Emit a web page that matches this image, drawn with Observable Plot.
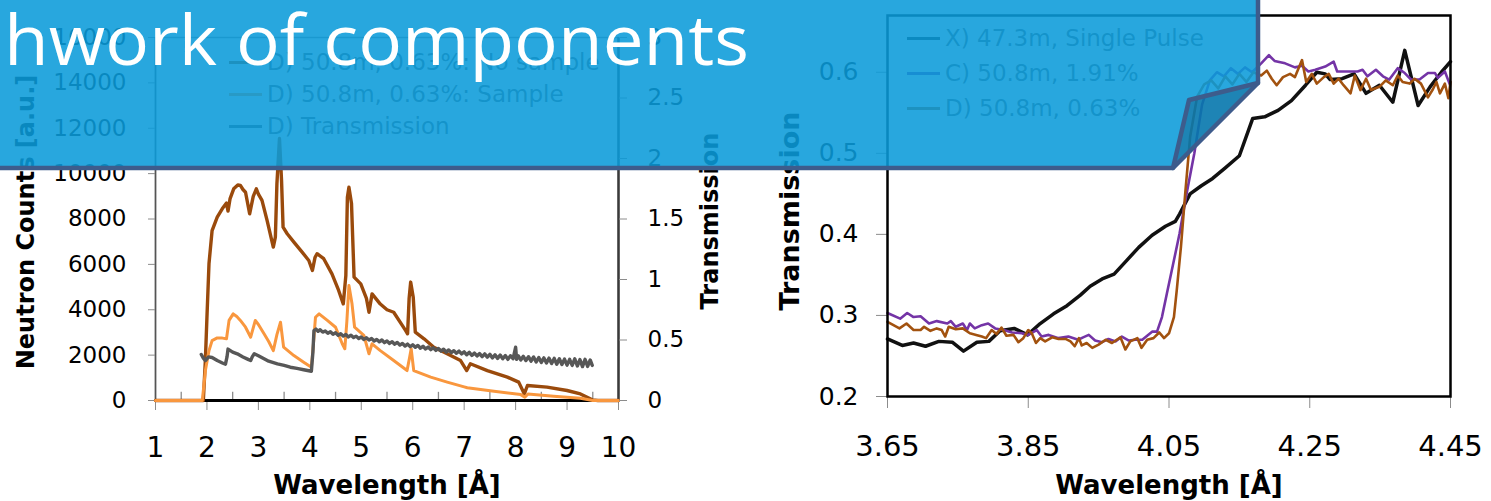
<!DOCTYPE html>
<html><head><meta charset="utf-8">
<script src="https://cdn.jsdelivr.net/npm/d3@7"></script>
<script src="https://cdn.jsdelivr.net/npm/@observablehq/plot@0.6"></script>
<style>
html,body{margin:0;padding:0;background:#fff;}
#stage{position:relative;width:1491px;height:501px;overflow:hidden;font-family:"DejaVu Sans",sans-serif;}
.layer{position:absolute;top:0;}
.legend{position:absolute;font-size:23px;color:#595959;white-space:nowrap;font-family:"DejaVu Sans",sans-serif;}
.legend .item{position:absolute;left:0;display:flex;align-items:center;height:30px;}
.legend .swatch{display:inline-block;width:33px;height:3px;margin-right:5px;}
#banner{position:absolute;left:0;top:0;pointer-events:none;}
</style></head><body><div id="stage"></div>
<script>
// ---------- LEFT CHART DATA (wavelength [Å], neutron counts) ----------
const noSample = [[1,0],[1.9,0],[1.93,0],[1.97,1800],[2.0,3670],[2.04,6040],[2.1,7490],[2.2,8080],[2.3,8460],[2.38,8700],[2.41,8350],[2.45,8900],[2.52,9330],[2.6,9500],[2.65,9480],[2.7,9300],[2.75,9180],[2.83,8230],[2.9,9000],[2.96,9330],[3.0,9100],[3.07,8820],[3.17,7930],[3.29,6760],[3.33,7200],[3.36,9550],[3.41,11550],[3.45,9700],[3.48,7640],[3.56,7350],[3.69,6980],[3.85,6540],[3.98,6170],[4.05,5730],[4.1,6300],[4.14,6470],[4.27,6250],[4.43,5580],[4.56,4850],[4.65,4260],[4.7,5500],[4.73,8960],[4.76,9400],[4.81,8680],[4.86,5440],[4.99,5140],[5.1,4500],[5.15,3890],[5.21,4700],[5.37,4250],[5.5,4000],[5.63,3890],[5.8,3300],[5.86,3090],[5.9,2940],[5.93,4500],[5.96,5220],[6.01,4550],[6.05,3010],[6.22,2720],[6.41,2350],[6.67,2060],[6.93,1760],[7.05,1320],[7.12,1620],[7.45,1320],[7.84,1030],[8.06,810],[8.17,290],[8.23,660],[8.61,590],[9.0,440],[9.26,290],[9.49,30],[9.6,0],[10,0]];
const withSample = [[1,0],[1.91,0],[1.97,1320],[2.04,2200],[2.1,2640],[2.2,2760],[2.3,2750],[2.38,2720],[2.43,3530],[2.51,3820],[2.58,3700],[2.65,3530],[2.75,3230],[2.85,2790],[2.94,3530],[3.0,3350],[3.11,2940],[3.2,2600],[3.29,2200],[3.36,2900],[3.43,3450],[3.49,2350],[3.69,1980],[3.88,1690],[4.03,1470],[4.07,2500],[4.11,3670],[4.18,3820],[4.34,3530],[4.5,3230],[4.63,2500],[4.68,2280],[4.72,3500],[4.76,5070],[4.82,4260],[4.87,3230],[5.05,2870],[5.15,2060],[5.21,2500],[5.37,2200],[5.63,1760],[5.89,1320],[5.94,1900],[5.97,2280],[6.02,1320],[6.35,1030],[6.67,810],[7.0,600],[7.06,560],[7.58,410],[8.1,260],[8.18,150],[8.24,290],[8.74,190],[9.26,100],[9.5,0],[10,0]];
// transmission (secondary axis)
const transmissionD = [[1.89,0.38],[1.93,0.35],[1.97,0.33],[2.03,0.36],[2.1,0.355],[2.2,0.33],[2.3,0.31],[2.36,0.30],[2.39,0.36],[2.41,0.425],[2.5,0.40],[2.59,0.386],[2.7,0.36],[2.8,0.34],[2.85,0.33],[2.88,0.36],[2.92,0.386],[3.0,0.37],[3.11,0.345],[3.2,0.325],[3.37,0.303],[3.5,0.29],[3.62,0.275],[3.75,0.265],[3.88,0.254],[4.03,0.242],[4.06,0.4],[4.08,0.578],[4.12,0.59],[4.16,0.572],[4.2,0.585],[4.25,0.565],[4.3,0.575],[4.35,0.556],[4.4,0.568],[4.45,0.548],[4.5,0.56],[4.55,0.54],[4.6,0.552],[4.65,0.532],[4.7,0.545],[4.75,0.525],[4.8,0.54],[4.85,0.52],[4.9,0.532],[4.95,0.512],[5.0,0.525],[5.05,0.505],[5.1,0.518],[5.15,0.5],[5.2,0.512],[5.25,0.492],[5.3,0.505],[5.35,0.485],[5.4,0.5],[5.45,0.478],[5.5,0.492],[5.55,0.472],[5.6,0.486],[5.65,0.465],[5.7,0.48],[5.75,0.458],[5.8,0.472],[5.85,0.45],[5.9,0.466],[5.95,0.445],[6.0,0.46],[6.05,0.44],[6.1,0.455],[6.15,0.432],[6.2,0.448],[6.25,0.426],[6.3,0.442],[6.35,0.42],[6.4,0.436],[6.45,0.414],[6.5,0.43],[6.55,0.408],[6.6,0.424],[6.65,0.4],[6.7,0.418],[6.75,0.396],[6.8,0.412],[6.85,0.39],[6.9,0.408],[6.95,0.385],[7.0,0.402],[7.05,0.378],[7.1,0.398],[7.15,0.372],[7.2,0.392],[7.25,0.368],[7.3,0.388],[7.35,0.362],[7.4,0.385],[7.45,0.358],[7.5,0.382],[7.55,0.352],[7.6,0.378],[7.65,0.348],[7.7,0.376],[7.75,0.345],[7.8,0.372],[7.85,0.34],[7.9,0.37],[7.95,0.345],[8.0,0.44],[8.02,0.34],[8.05,0.37],[8.1,0.335],[8.15,0.365],[8.2,0.33],[8.25,0.362],[8.3,0.325],[8.35,0.36],[8.4,0.318],[8.45,0.355],[8.5,0.315],[8.55,0.352],[8.6,0.31],[8.65,0.35],[8.7,0.305],[8.75,0.348],[8.8,0.3],[8.85,0.345],[8.9,0.298],[8.95,0.342],[9.0,0.292],[9.05,0.34],[9.1,0.29],[9.15,0.345],[9.2,0.285],[9.25,0.338],[9.3,0.28],[9.35,0.34],[9.4,0.282],[9.45,0.335],[9.49,0.29]];
const leftXTicks = [1,2,3,4,5,6,7,8,9,10];
const leftXMinor = [1.5,2.5,3.5,4.5,5.5,6.5,7.5,8.5,9.5];
const countTicks = [0,2000,4000,6000,8000,10000,12000,14000,16000];
const transTicks = [0,0.5,1,1.5,2,2.5,3];
const leftLegend = ["D) 50.8m, 0.63%: No sample","D) 50.8m, 0.63%: Sample","D) Transmission"];

// ---------- RIGHT CHART DATA (wavelength [Å], transmission) ----------
const singlePulseX = [[3.65,0.271],[3.671,0.263],[3.687,0.266],[3.704,0.262],[3.723,0.268],[3.742,0.267],[3.758,0.256],[3.777,0.267],[3.794,0.268],[3.81,0.281],[3.83,0.284],[3.849,0.276],[3.867,0.29],[3.886,0.302],[3.905,0.312],[3.924,0.325],[3.938,0.336],[3.955,0.345],[3.972,0.351],[3.99,0.368],[4.007,0.384],[4.026,0.399],[4.045,0.41],[4.059,0.416],[4.065,0.425],[4.08,0.45],[4.096,0.46],[4.112,0.469],[4.13,0.482],[4.15,0.497],[4.169,0.543],[4.186,0.545],[4.205,0.553],[4.224,0.565],[4.244,0.584],[4.26,0.6],[4.272,0.598],[4.279,0.591],[4.296,0.592],[4.313,0.598],[4.33,0.574],[4.349,0.584],[4.368,0.563],[4.385,0.627],[4.404,0.559],[4.421,0.582],[4.437,0.6],[4.45,0.613]];
const seriesC = [[3.65,0.303],[3.668,0.296],[3.678,0.303],[3.687,0.298],[3.697,0.299],[3.709,0.29],[3.72,0.293],[3.735,0.29],[3.74,0.293],[3.747,0.286],[3.757,0.29],[3.763,0.282],[3.767,0.29],[3.774,0.284],[3.784,0.288],[3.793,0.29],[3.803,0.284],[3.815,0.282],[3.827,0.279],[3.841,0.278],[3.85,0.276],[3.862,0.282],[3.869,0.274],[3.879,0.276],[3.893,0.272],[3.907,0.274],[3.921,0.27],[3.928,0.273],[3.936,0.276],[3.945,0.269],[3.955,0.267],[3.964,0.271],[3.974,0.268],[3.983,0.274],[3.993,0.269],[4.002,0.27],[4.012,0.27],[4.019,0.275],[4.026,0.28],[4.033,0.28],[4.04,0.298],[4.047,0.327],[4.057,0.368],[4.065,0.401],[4.075,0.45],[4.086,0.5],[4.097,0.56],[4.108,0.59],[4.118,0.6],[4.128,0.595],[4.138,0.605],[4.148,0.598],[4.158,0.606],[4.168,0.6],[4.181,0.611],[4.192,0.621],[4.2,0.614],[4.215,0.611],[4.229,0.606],[4.239,0.608],[4.248,0.601],[4.258,0.603],[4.272,0.607],[4.284,0.613],[4.289,0.601],[4.303,0.601],[4.318,0.601],[4.325,0.603],[4.332,0.595],[4.344,0.603],[4.354,0.595],[4.363,0.591],[4.375,0.605],[4.385,0.599],[4.394,0.591],[4.406,0.591],[4.418,0.599],[4.428,0.599],[4.432,0.593],[4.442,0.601],[4.449,0.585]];
const seriesD = [[3.65,0.292],[3.667,0.284],[3.677,0.29],[3.687,0.282],[3.697,0.282],[3.702,0.286],[3.711,0.281],[3.72,0.284],[3.727,0.282],[3.732,0.274],[3.737,0.286],[3.747,0.283],[3.757,0.284],[3.767,0.278],[3.776,0.276],[3.784,0.274],[3.79,0.272],[3.798,0.282],[3.805,0.277],[3.812,0.285],[3.819,0.275],[3.829,0.276],[3.836,0.267],[3.843,0.272],[3.85,0.282],[3.855,0.278],[3.861,0.266],[3.867,0.272],[3.874,0.268],[3.884,0.273],[3.893,0.271],[3.903,0.271],[3.91,0.268],[3.916,0.262],[3.922,0.272],[3.926,0.263],[3.933,0.266],[3.941,0.26],[3.95,0.264],[3.96,0.27],[3.969,0.266],[3.981,0.273],[3.988,0.258],[3.995,0.268],[4.005,0.272],[4.011,0.26],[4.019,0.27],[4.028,0.272],[4.036,0.279],[4.043,0.272],[4.05,0.278],[4.057,0.298],[4.061,0.331],[4.067,0.385],[4.073,0.45],[4.08,0.52],[4.09,0.57],[4.1,0.585],[4.11,0.59],[4.12,0.58],[4.13,0.595],[4.14,0.585],[4.15,0.598],[4.16,0.588],[4.17,0.6],[4.181,0.596],[4.189,0.602],[4.196,0.592],[4.203,0.584],[4.212,0.594],[4.222,0.598],[4.229,0.594],[4.239,0.615],[4.245,0.588],[4.253,0.598],[4.26,0.586],[4.27,0.594],[4.277,0.598],[4.284,0.586],[4.291,0.592],[4.298,0.584],[4.308,0.574],[4.314,0.596],[4.322,0.578],[4.33,0.592],[4.337,0.578],[4.349,0.582],[4.358,0.59],[4.368,0.584],[4.375,0.596],[4.382,0.588],[4.392,0.586],[4.399,0.592],[4.408,0.586],[4.418,0.569],[4.425,0.579],[4.43,0.588],[4.435,0.574],[4.442,0.586],[4.447,0.568],[4.45,0.588]];
const rightXTicks = [3.65,3.85,4.05,4.25,4.45];
const rightYTicks = [0.2,0.3,0.4,0.5,0.6];
const rightLegend = ["X) 47.3m, Single Pulse","C) 50.8m, 1.91%","D) 50.8m, 0.63%"];

// ---------- COLORS ----------
const cBrown = "#9a4a0c", cOrange = "#f9973e", cGray = "#575757";
const cBlack = "#111111", cPurple = "#7434a6", cBrown2 = "#a2520f";
const tickGray = "#8c8c8c";

const stage = document.getElementById("stage");
const fmt = d => String(d);
const X = d => d[0], Y = d => d[1];
const baseStyle = {fontFamily: "DejaVu Sans", background: "transparent", color: "#000", overflow: "visible"};
const titleOpts = {text: d => d, textAnchor: "middle", lineAnchor: "middle", fontWeight: "bold", fill: "#000"};

function place(el, left) {
  const wrap = document.createElement("div");
  wrap.className = "layer";
  wrap.style.left = left + "px";
  wrap.appendChild(el);
  stage.appendChild(wrap);
}

// Left chart: primary axis (counts)
const leftMain = Plot.plot({
  width: 760, height: 501,
  marginLeft: 155, marginRight: 142, marginTop: 37, marginBottom: 101,
  style: baseStyle,
  x: {domain: [1, 10]},
  y: {domain: [0, 16000]},
  marks: [
    Plot.frame({stroke: tickGray, strokeWidth: 1.5}),
    Plot.ruleX([1], {stroke: "#555", strokeWidth: 1.5}),
    Plot.ruleX([10], {stroke: "#3a3a3a", strokeWidth: 2.5}),
    Plot.ruleX(leftXMinor, {x: d => d, y1: 0, y2: 360, stroke: tickGray, strokeWidth: 1.3}),
    Plot.axisX(leftXTicks, {anchor: "bottom", tickSize: 10, tickPadding: 27, fontSize: 28, tickFormat: fmt, stroke: tickGray, fill: "#000", label: null}),
    Plot.axisY(countTicks, {anchor: "left", tickSize: 7, tickPadding: 22, fontSize: 23, tickFormat: fmt, stroke: tickGray, fill: "#000", label: null}),
    Plot.ruleY([0], {stroke: "#000", strokeWidth: 3}),
    Plot.line(noSample, {x: X, y: Y, stroke: cBrown, strokeWidth: 3.4}),
    Plot.line(withSample, {x: X, y: Y, stroke: cOrange, strokeWidth: 3}),
    Plot.text(["Neutron Counts [a.u.]"], {...titleOpts, frameAnchor: "left", dx: -129, dy: 3, rotate: -90, fontSize: 24}),
    Plot.text(["Wavelength [Å]"], {...titleOpts, frameAnchor: "bottom", dy: 85, fontSize: 26})
  ]
});
place(leftMain, 0);

// Left chart: secondary axis (transmission)
const leftSecondary = Plot.plot({
  width: 760, height: 501,
  marginLeft: 155, marginRight: 142, marginTop: 37, marginBottom: 101,
  style: baseStyle,
  x: {domain: [1, 10], axis: null},
  y: {domain: [0, 3]},
  marks: [
    Plot.axisY(transTicks, {anchor: "right", tickSize: 8, tickPadding: 21, fontSize: 23, tickFormat: fmt, stroke: tickGray, fill: "#000", label: null}),
    Plot.line(transmissionD, {x: X, y: Y, stroke: cGray, strokeWidth: 3.4}),
    Plot.text(["Transmission"], {...titleOpts, frameAnchor: "right", dx: 92, dy: 2, rotate: -90, fontSize: 24})
  ]
});
place(leftSecondary, 0);

// Right chart
const rightChart = Plot.plot({
  width: 731, height: 501,
  marginLeft: 127, marginRight: 41, marginTop: 15, marginBottom: 105,
  style: baseStyle,
  x: {domain: [3.65, 4.45]},
  y: {domain: [0.2, 0.67]},
  marks: [
    Plot.axisX(rightXTicks, {anchor: "bottom", tickSize: 12, tickPadding: 27, fontSize: 29, tickFormat: d => d.toFixed(2), stroke: tickGray, fill: "#000", label: null}),
    Plot.axisY(rightYTicks, {anchor: "left", tickSize: 11, tickPadding: 18, fontSize: 25, tickFormat: d => d.toFixed(1), stroke: tickGray, fill: "#000", label: null}),
    Plot.line(singlePulseX, {x: X, y: Y, stroke: cBlack, strokeWidth: 3.5}),
    Plot.line(seriesC, {x: X, y: Y, stroke: cPurple, strokeWidth: 2.6}),
    Plot.line(seriesD, {x: X, y: Y, stroke: cBrown2, strokeWidth: 2.6}),
    Plot.frame({stroke: "#000", strokeWidth: 2.5}),
    Plot.text(["Transmission"], {...titleOpts, frameAnchor: "left", dx: -97, dy: 5, rotate: -90, fontSize: 27}),
    Plot.text(["Wavelength [Å]"], {...titleOpts, frameAnchor: "bottom", dy: 89, fontSize: 26})
  ]
});
place(rightChart, 760);

// Legends (HTML)
function legend(labels, colors, left, tops) {
  const box = document.createElement("div");
  box.className = "legend";
  box.style.left = left + "px";
  box.style.top = "0px";
  labels.forEach((lab, i) => {
    const it = document.createElement("div");
    it.className = "item";
    it.style.top = (tops[i] - 15) + "px";
    const sw = document.createElement("span");
    sw.className = "swatch";
    sw.style.background = colors[i];
    const tx = document.createElement("span");
    tx.textContent = lab;
    it.appendChild(sw); it.appendChild(tx);
    box.appendChild(it);
  });
  stage.appendChild(box);
}
legend(leftLegend, [cBrown, cOrange, cGray], 229, [62, 94, 126]);
legend(rightLegend, [cBlack, cPurple, cBrown2], 907, [38, 73, 108]);

// Slide title banner overlay
const NS = "http://www.w3.org/2000/svg";
const banner = document.createElementNS(NS, "svg");
banner.setAttribute("id", "banner");
banner.setAttribute("width", 1491);
banner.setAttribute("height", 501);
banner.innerHTML = `
  <polygon points="0,-5 1258,-5 1258,83 1189,100 1173,168 0,168" fill="#0a9bda" fill-opacity="0.88"/>
  <polygon points="1189,100 1258,83 1173,168" fill="#0677ad" fill-opacity="0.9"/>
  <polyline points="-5,168 1173,168 1189,100 1258,83 1258,-5" fill="none" stroke="#3d5c8c" stroke-width="4.5" stroke-linejoin="round"/>
  <line x1="1258" y1="83" x2="1173" y2="168" stroke="#3d5c8c" stroke-width="4.5" stroke-linecap="round"/>
  <text x="4" y="65" font-family="Open Sans, sans-serif" font-size="70" fill="#ffffff" textLength="745" lengthAdjust="spacingAndGlyphs">hwork of components</text>`;
stage.appendChild(banner);
</script>
</body></html>
